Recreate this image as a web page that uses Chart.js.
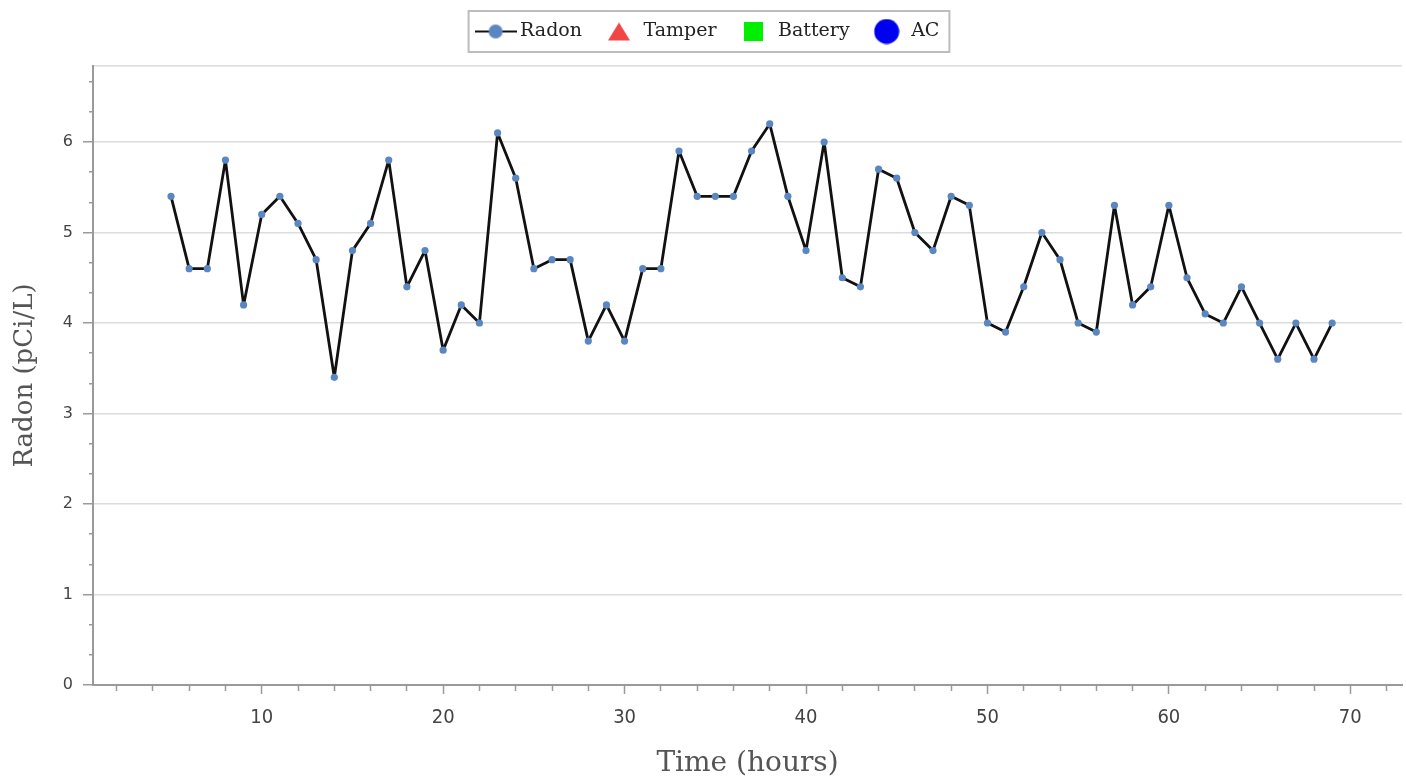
<!DOCTYPE html>
<html>
<head>
<meta charset="utf-8">
<script src="https://cdn.jsdelivr.net/npm/chart.js@4.4.1/dist/chart.umd.min.js"></script>
<style>
  html, body { margin: 0; padding: 0; background: #fff; }
  #wrap { width: 1406px; height: 778px; }
</style>
</head>
<body>
<div id="wrap"><canvas id="radon" width="1406" height="778"></canvas></div>
<script>
// hours since start
let hours = [
  5, 6, 7, 8, 9, 10, 11, 12, 13, 14, 15, 16, 17, 18, 19, 20, 21, 22, 23, 24,
  25, 26, 27, 28, 29, 30, 31, 32, 33, 34, 35, 36, 37, 38, 39, 40, 41, 42, 43, 44,
  45, 46, 47, 48, 49, 50, 51, 52, 53, 54, 55, 56, 57, 58, 59, 60, 61, 62, 63, 64,
  65, 66, 67, 68, 69,
];

// pCi/L
let radon = [
  5.4, 4.6, 4.6, 5.8, 4.2, 5.2, 5.4, 5.1, 4.7, 3.4, 4.8, 5.1, 5.8, 4.4, 4.8, 3.7, 4.2, 4.0, 6.1, 5.6,
  4.6, 4.7, 4.7, 3.8, 4.2, 3.8, 4.6, 4.6, 5.9, 5.4, 5.4, 5.4, 5.9, 6.2, 5.4, 4.8, 6.0, 4.5, 4.4, 5.7,
  5.6, 5.0, 4.8, 5.4, 5.3, 4.0, 3.9, 4.4, 5.0, 4.7, 4.0, 3.9, 5.3, 4.2, 4.4, 5.3, 4.5, 4.1, 4.0, 4.4,
  4.0, 3.6, 4.0, 3.6, 4.0,
];

// no events in this window
let tamper = [];
let battery = [];
let ac = [];

let seriesNames = ["Radon", "Tamper", "Battery", "AC"];

// axis ticks
let xTicks = [2, 4, 6, 8, 10, 12, 14, 16, 18, 20, 22, 24, 26, 28, 30, 32, 34, 36, 38, 40,
  42, 44, 46, 48, 50, 52, 54, 56, 58, 60, 62, 64, 66, 68, 70, 72];
let xLabels = [10, 20, 30, 40, 50, 60, 70];
let yTicks = [0, 1 / 3, 2 / 3, 1, 4 / 3, 5 / 3, 2, 7 / 3, 8 / 3, 3, 10 / 3, 11 / 3, 4,
  13 / 3, 14 / 3, 5, 16 / 3, 17 / 3, 6, 19 / 3, 20 / 3];
let yLabels = [0, 1, 2, 3, 4, 5, 6];

let xMin = 0.7, xMax = 72.85;
let yMin = 0, yMax = 6.84;

function icon(w, h, draw) {
  let c = document.createElement("canvas");
  c.width = w;
  c.height = h;
  draw(c.getContext("2d"));
  return c;
}

let icons = [
  icon(42, 16, (ctx) => {
    ctx.strokeStyle = "#111";
    ctx.lineWidth = 2;
    ctx.beginPath();
    ctx.moveTo(0, 8);
    ctx.lineTo(42, 8);
    ctx.stroke();
    ctx.fillStyle = "#5a87c2";
    ctx.beginPath();
    ctx.arc(21, 8, 7, 0, Math.PI * 2);
    ctx.fill();
  }),
  icon(22, 20, (ctx) => {
    ctx.fillStyle = "#f24545";
    ctx.beginPath();
    ctx.moveTo(11, 1);
    ctx.lineTo(22, 19);
    ctx.lineTo(0, 19);
    ctx.closePath();
    ctx.fill();
  }),
  icon(19, 19, (ctx) => {
    ctx.fillStyle = "#00ee00";
    ctx.fillRect(0, 0, 19, 19);
  }),
  icon(26, 26, (ctx) => {
    ctx.fillStyle = "#0000f0";
    ctx.beginPath();
    ctx.arc(13, 13, 12.5, 0, Math.PI * 2);
    ctx.fill();
  }),
];

function isLabel(list, v) {
  return list.some((l) => Math.abs(l - v) < 1e-6);
}

let legendBox = {
  id: "legendBox",
  beforeLayout(chart) {
    if (chart.legend && !chart.legend._patched) {
      let fit = chart.legend.fit;
      chart.legend.fit = function () {
        fit.call(this);
        this.height = 66;
      };
      chart.legend._patched = true;
    }
  },
  afterLayout(chart) {
    // legend sits a little right of centre in the original
    chart.legend.left += 7;
    chart.legend.right += 7;
  },
  afterDraw(chart) {
    let boxes = chart.legend && chart.legend.legendHitBoxes;
    if (!boxes || !boxes.length) return;
    let left = Math.min(...boxes.map((b) => b.left));
    let right = Math.max(...boxes.map((b) => b.left + b.width));
    let ctx = chart.ctx;
    ctx.save();
    ctx.strokeStyle = "#bdbdbd";
    ctx.lineWidth = 2;
    ctx.strokeRect(left - 12, 11, right - left + 22, 41);
    ctx.restore();
  },
};

let points = hours.map((h, i) => ({ x: h, y: radon[i] }));

new Chart(document.getElementById("radon"), {
  type: "line",
  data: {
    datasets: [
      {
        label: seriesNames[0],
        data: points,
        borderColor: "#111",
        borderWidth: 2.8,
        borderJoinStyle: "round",
        pointRadius: 3.6,
        pointBackgroundColor: "#5a87c2",
        pointBorderWidth: 0,
        pointStyle: "circle",
        tension: 0,
      },
      { label: seriesNames[1], data: tamper, showLine: false },
      { label: seriesNames[2], data: battery, showLine: false },
      { label: seriesNames[3], data: ac, showLine: false },
    ],
  },
  options: {
    responsive: false,
    devicePixelRatio: 1,
    animation: false,
    layout: { padding: 0 },
    plugins: {
      tooltip: { enabled: false },
      legend: {
        display: true,
        position: "top",
        labels: {
          usePointStyle: true,
          pointStyleWidth: 30,
          padding: 22,
          color: "#222",
          font: { family: "DejaVu Serif", size: 19 },
          generateLabels: (chart) =>
            chart.data.datasets.map((ds, i) => ({
              text: ds.label,
              pointStyle: icons[i],
              fillStyle: "transparent",
              strokeStyle: "transparent",
              lineWidth: 0,
              hidden: false,
              datasetIndex: i,
              fontColor: "#222",
            })),
        },
      },
    },
    scales: {
      x: {
        type: "linear",
        min: xMin,
        max: xMax,
        afterBuildTicks: (scale) => {
          scale.ticks = xTicks.map((v) => ({ value: v }));
        },
        afterFit: (scale) => {
          scale.height = 93;
          scale.paddingLeft = 0;
          scale.paddingRight = 0;
        },
        ticks: {
          autoSkip: false,
          maxRotation: 0,
          padding: 12,
          color: "#444",
          font: { family: "DejaVu Sans Condensed", size: 20 },
          callback: (v) => (isLabel(xLabels, v) ? Math.round(v) : ""),
        },
        grid: {
          drawOnChartArea: false,
          tickLength: 9,
          tickWidth: 1.5,
          tickColor: "#9a9a9a",
          tickBorderDash: (ctx) =>
            ctx.tick && isLabel(xLabels, ctx.tick.value) ? [] : [5, 100],
        },
        border: { color: "#9a9a9a", width: 2 },
        title: {
          display: true,
          text: "Time (hours)",
          color: "#555",
          font: { family: "DejaVu Serif", size: 28, lineHeight: 1 },
          padding: { top: 0, bottom: 0 },
        },
      },
      y: {
        type: "linear",
        min: yMin,
        max: yMax,
        afterBuildTicks: (scale) => {
          scale.ticks = yTicks.map((v) => ({ value: v })).concat([{ value: yMax }]);
        },
        afterFit: (scale) => {
          scale.width = 93;
        },
        ticks: {
          autoSkip: false,
          padding: 10,
          color: "#444",
          font: { family: "DejaVu Sans", size: 16 },
          callback: (v) => (isLabel(yLabels, v) ? Math.round(v) : ""),
        },
        grid: {
          color: (ctx) =>
            ctx.tick && (isLabel(yLabels, ctx.tick.value) || ctx.tick.value >= yMax - 1e-6)
              ? "#dcdcdc"
              : "transparent",
          lineWidth: 1.5,
          tickLength: 10,
          tickWidth: 1.5,
          tickColor: (ctx) =>
            ctx.tick && ctx.tick.value < yMax - 1e-6 ? "#9a9a9a" : "transparent",
          tickBorderDash: (ctx) =>
            ctx.tick && isLabel(yLabels, ctx.tick.value) ? [] : [0, 6, 4, 100],
        },
        border: { color: "#9a9a9a", width: 2 },
        title: {
          display: true,
          text: "Radon (pCi/L)",
          color: "#555",
          font: { family: "DejaVu Serif", size: 26 },
          padding: { top: 10, bottom: 0 },
        },
      },
    },
  },
  plugins: [legendBox],
});
</script>
</body>
</html>
